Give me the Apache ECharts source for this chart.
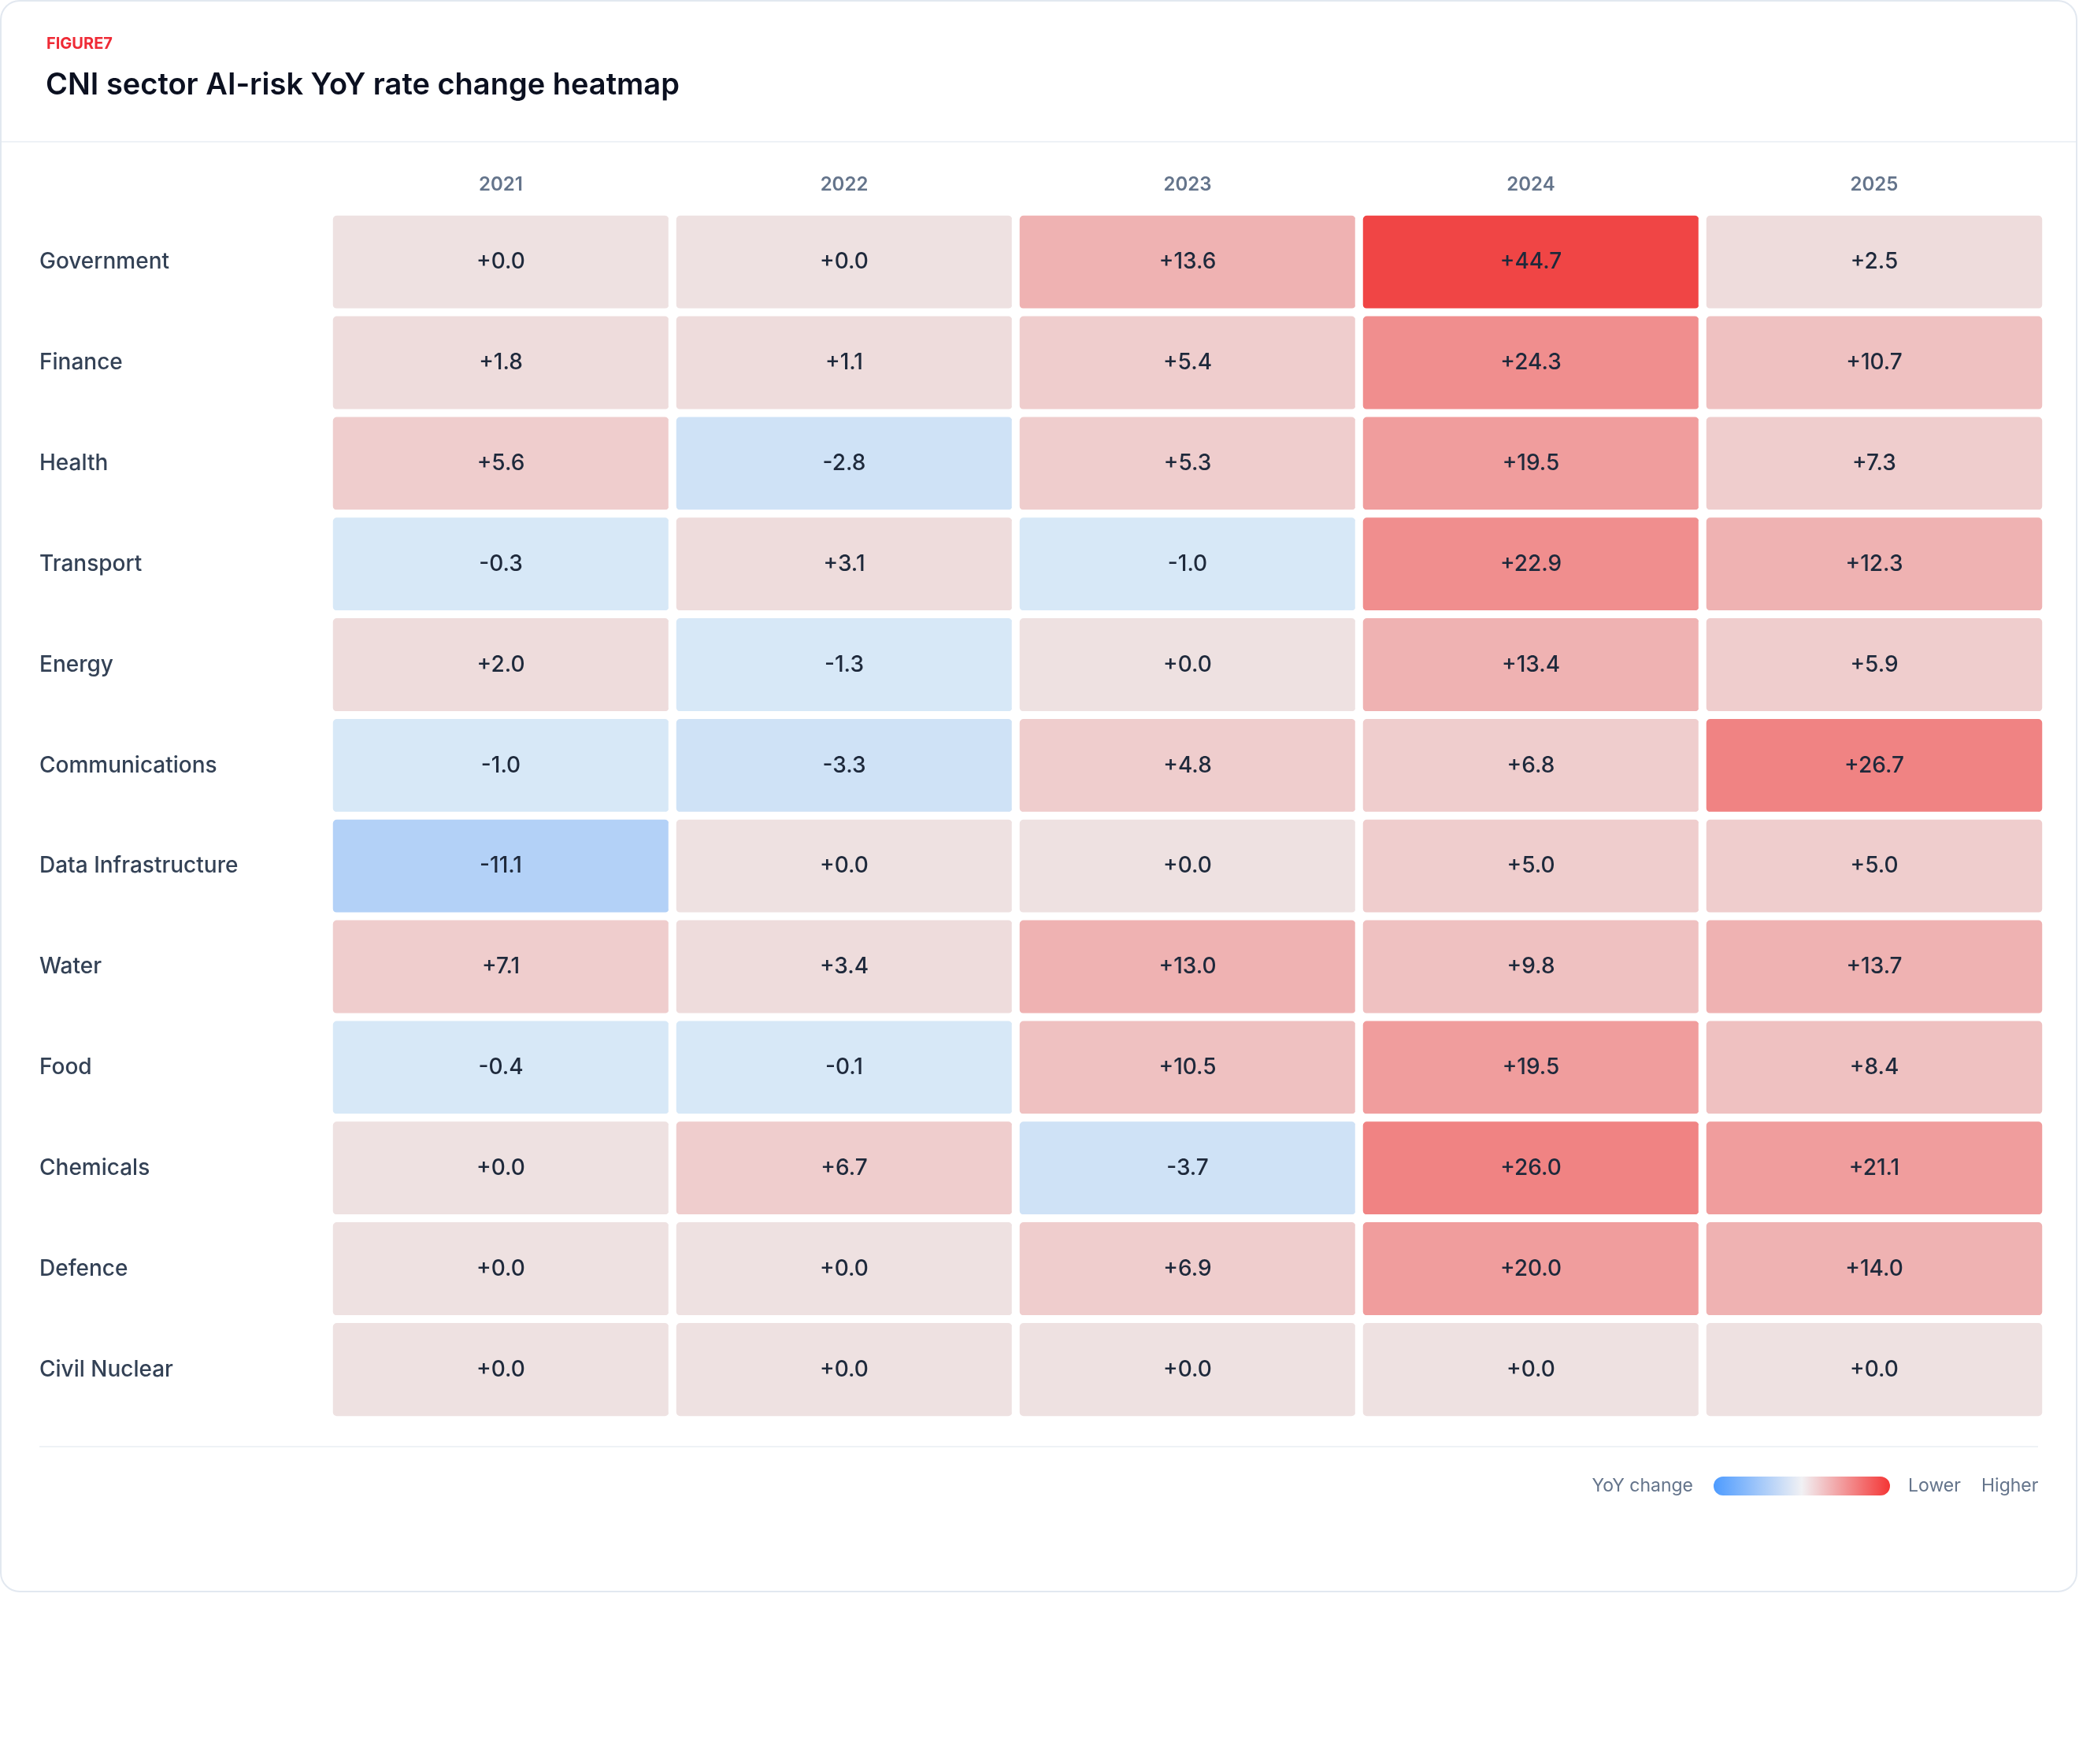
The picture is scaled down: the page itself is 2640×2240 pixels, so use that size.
<!DOCTYPE html>
<html><head><meta charset="utf-8">
<script src="https://cdn.jsdelivr.net/npm/echarts@6/dist/echarts.min.js"></script>
<style>html,body{margin:0;padding:0;background:#fff}#c{width:2640px;height:2240px}</style>
</head><body><div id="c"></div>
<script>
const years = ['2021','2022','2023','2024','2025'];
const sectors = ['Government','Finance','Health','Transport','Energy','Communications','Data Infrastructure','Water','Food','Chemicals','Defence','Civil Nuclear'];
const values = [
  [0.0, 0.0, 13.6, 44.7, 2.5],
  [1.8, 1.1, 5.4, 24.3, 10.7],
  [5.6, -2.8, 5.3, 19.5, 7.3],
  [-0.3, 3.1, -1.0, 22.9, 12.3],
  [2.0, -1.3, 0.0, 13.4, 5.9],
  [-1.0, -3.3, 4.8, 6.8, 26.7],
  [-11.1, 0.0, 0.0, 5.0, 5.0],
  [7.1, 3.4, 13.0, 9.8, 13.7],
  [-0.4, -0.1, 10.5, 19.5, 8.4],
  [0.0, 6.7, -3.7, 26.0, 21.1],
  [0.0, 0.0, 6.9, 20.0, 14.0],
  [0.0, 0.0, 0.0, 0.0, 0.0]
];
const data = [];
values.forEach((row, r) => row.forEach((v, c) => data.push([c, r, v])));
const font = 'Inter, "Noto Sans", sans-serif';
const chart = echarts.init(document.getElementById('c'));
chart.setOption({
  backgroundColor: '#fff',
  animation: false,
  graphic: [
    {type:'rect', shape:{x:1,y:1,width:2636,height:2020,r:24}, style:{fill:'#fff',stroke:'#e2e8f0',lineWidth:2}, z:-10},
    {type:'line', shape:{x1:2,y1:180,x2:2636,y2:180}, style:{stroke:'#eef2f6',lineWidth:2}},
    {type:'line', shape:{x1:50,y1:1837,x2:2588,y2:1837}, style:{stroke:'#eef2f6',lineWidth:2}},
    {type:'text', left:59, top:46, style:{text:'FIGURE7', fill:'#ef2b36', font:'700 20px '+font, letterSpacing:4}},
    {type:'text', left:58, top:90, style:{text:'CNI sector AI-risk YoY rate change heatmap', fill:'#0b1020', font:'600 38px '+font, letterSpacing:-0.6}},
    {type:'text', x:2150, y:1887, style:{text:'YoY change', fill:'#64748b', font:'400 23px '+font, align:'right', verticalAlign:'middle'}},
    {type:'rect', shape:{x:2176,y:1875,width:224,height:24,r:12}, style:{fill:new echarts.graphic.LinearGradient(0,0,1,0,[{offset:0,color:'#4d9bff'},{offset:0.5,color:'#f1f1f4'},{offset:1,color:'#f43535'}])}},
    {type:'text', x:2423, y:1887, style:{text:'Lower', fill:'#64748b', font:'400 23px '+font, verticalAlign:'middle'}},
    {type:'text', x:2516, y:1887, style:{text:'Higher', fill:'#64748b', font:'400 23px '+font, verticalAlign:'middle'}}
  ],
  grid: {left:418, right:2640-2598, top:269, bottom:2240-1803},
  xAxis: {type:'category', data:years, position:'top', axisLine:{show:false}, axisTick:{show:false}, splitLine:{show:false},
    axisLabel:{color:'#64748b', fontFamily:font, fontSize:24, fontWeight:600, margin:22, letterSpacing:2}},
  yAxis: {type:'category', data:sectors, inverse:true, axisLine:{show:false}, axisTick:{show:false}, splitLine:{show:false},
    axisLabel:{color:'#334155', fontFamily:font, fontSize:28, fontWeight:500, align:'left', margin:368}},
  visualMap: {type:'piecewise', show:false, dimension:2, seriesIndex:0, pieces:[
    {lt:-10, color:'#b3d1f7'},
    {gte:-10, lt:-2, color:'#cfe2f6'},
    {gte:-2, lt:-0.05, color:'#d7e8f7'},
    {gte:-0.05, lt:0.05, color:'#eee1e1'},
    {gte:0.05, lt:4, color:'#eedcdc'},
    {gte:4, lt:8, color:'#efcdcd'},
    {gte:8, lt:12, color:'#efc1c1'},
    {gte:12, lt:16, color:'#efb2b2'},
    {gte:16, lt:22, color:'#f09d9d'},
    {gte:22, lt:25.5, color:'#f08e8e'},
    {gte:25.5, lt:35, color:'#f08383'},
    {gte:35, color:'#f04545'}
  ]},
  series: [{
    type:'heatmap', data:data,
    itemStyle:{borderColor:'#fff', borderWidth:10, borderRadius:10},
    emphasis:{disabled:true},
    label:{show:true, fontFamily:font, fontSize:28, fontWeight:500, color:'#1e293b',
      formatter: p => (p.value[2] >= 0 ? '+' : '') + p.value[2].toFixed(1)}
  }]
});
</script></body></html>
